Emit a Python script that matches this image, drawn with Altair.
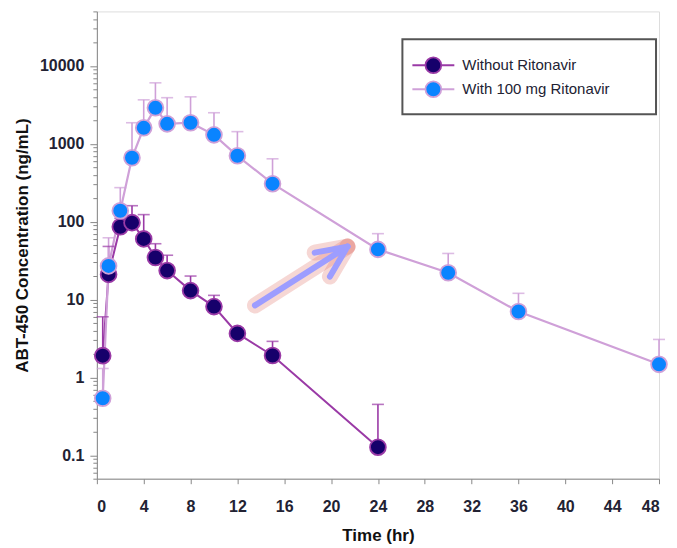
import altair as alt
import pandas as pd

# ---- data ----
series_names = ["Without Ritonavir", "With 100 mg Ritonavir"]

times_without = [0.5, 1, 2, 3, 4, 5, 6, 8, 10, 12, 15, 24]
conc_without = [1.9, 21, 86, 97, 60, 34.6, 23.5, 13, 8.1, 3.67, 1.91, 0.127]
upper_without = [6.0, 48, 110, 160, 123, 52, 37, 20, 11.3, 4.3, 2.9, 0.45]

times_with = [0.5, 1, 2, 3, 4, 5, 6, 8, 10, 12, 15, 24, 30, 36, 48]
conc_with = [0.54, 27, 138, 660, 1600, 2890, 1800, 1860, 1300, 700, 307, 44, 22, 7, 1.47]
upper_with = [1.3, 62, 273, 1860, 3660, 6050, 3900, 4000, 2500, 1430, 640, 70, 39, 12, 3.07]

x_ticks = [0, 4, 8, 12, 16, 20, 24, 28, 32, 36, 40, 44, 48]
y_major = [0.1, 1, 10, 100, 1000, 10000]
y_ticks = [m * d for d in [0.01, 0.1, 1, 10, 100, 1000, 10000] for m in range(1, 10)]
y_ticks = [v for v in y_ticks if 0.05 - 1e-9 <= v <= 50000 + 1e-6]

# annotation arrow (data coordinates)
arrow_shaft_x = [13.5, 21.4]
arrow_shaft_y = [8.4, 47.8]
arrow_head1_x = [18.6, 21.4]
arrow_head1_y = [40, 47.8]
arrow_head2_x = [19.9, 21.4]
arrow_head2_y = [19.7, 47.8]

dark_fill = "#16006b"
dark_line = "#9a3aa6"
blue_fill = "#0a84ff"
blue_line = "#cfa0d8"
FONT = "Liberation Sans"

df = pd.concat([
    pd.DataFrame({"time": times_without, "value": conc_without, "upper": upper_without,
                  "series": series_names[0], "order": 0}),
    pd.DataFrame({"time": times_with, "value": conc_with, "upper": upper_with,
                  "series": series_names[1], "order": 1}),
], ignore_index=True)

is_major = "abs(log(datum.value)/LN10 - round(log(datum.value)/LN10)) < 0.001"

xscale = alt.Scale(domain=[0, 48], nice=False, zero=False)
yscale = alt.Scale(type="log", domain=[0.05, 50000], nice=False)

xaxis = alt.Axis(values=x_ticks, title="Time (hr)", grid=False, tickSize=5,
                 labelPadding=15, titlePadding=13, labelFontSize=16, titleFontSize=17,
                 labelFontWeight="bold", titleFontWeight="bold", labelFont=FONT, titleFont=FONT,
                 labelColor="#222233", titleColor="#111111")
yaxis = alt.Axis(values=y_ticks, format="~g", title="ABT-450 Concentration (ng/mL)",
                 grid=False, labelOverlap=False, labelBound=False,
                 labelExpr=f"({is_major}) ? datum.label : ''",
                 tickSize={"condition": {"test": is_major, "value": 7}, "value": 4},
                 labelPadding=6, titlePadding=8, labelFontSize=16, titleFontSize=17,
                 labelFontWeight="bold", titleFontWeight="bold", labelFont=FONT, titleFont=FONT,
                 labelColor="#222233", titleColor="#111111")


def X(field):
    return alt.X(f"{field}:Q", scale=xscale, axis=xaxis)


def Y(field):
    return alt.Y(f"{field}:Q", scale=yscale, axis=yaxis)


color_scale = alt.Scale(domain=series_names, range=[dark_line, blue_line])
fill_scale = alt.Scale(domain=series_names, range=[dark_fill, blue_fill])

base = alt.Chart(df)

line_dark = alt.Chart(df[df.series == series_names[0]]).mark_line(
    color=dark_line, strokeWidth=2).encode(x=X("time"), y=Y("value"))
line_blue = alt.Chart(df[df.series == series_names[1]]).mark_line(
    color=blue_line, strokeWidth=2.2).encode(x=X("time"), y=Y("value"))

stems = base.mark_rule(strokeWidth=1.6).encode(
    x=X("time"), y=Y("value"), y2="upper:Q",
    color=alt.Color("series:N", scale=color_scale, legend=None))
caps = base.mark_tick(orient="horizontal", size=12, thickness=1.6).encode(
    x=X("time"), y=Y("upper"),
    color=alt.Color("series:N", scale=color_scale, legend=None))

points = base.mark_point(filled=True, shape="circle", size=250, strokeWidth=1.8,
                         opacity=1).encode(
    x=X("time"), y=Y("value"),
    fill=alt.Fill("series:N", scale=fill_scale, legend=None),
    stroke=alt.Stroke("series:N", scale=color_scale, legend=None),
    order=alt.Order("order:Q"))


# arrow annotation
def seg(xs, ys, **kw):
    d = pd.DataFrame({"x": xs, "y": ys})
    return alt.Chart(d).mark_line(**kw).encode(x=X("x"), y=Y("y"))


glow_kw = dict(color="#e07a70", strokeWidth=16, opacity=0.3, strokeCap="round")
arrow_kw = dict(color="#9d9dff", strokeWidth=6, strokeCap="round")
arrow_layers = [
    seg(arrow_shaft_x, arrow_shaft_y, **glow_kw),
    seg(arrow_head1_x, arrow_head1_y, **glow_kw),
    seg(arrow_head2_x, arrow_head2_y, **glow_kw),
    seg(arrow_shaft_x, arrow_shaft_y, **arrow_kw),
    seg(arrow_head1_x, arrow_head1_y, **arrow_kw),
    seg(arrow_head2_x, arrow_head2_y, **arrow_kw),
]

# legend (drawn manually)
one = pd.DataFrame({"k": [0]})
legend_box = alt.Chart(one).mark_rect(fill="white", stroke="#555555", strokeWidth=2).encode(
    x=alt.value(306), x2=alt.value(560), y=alt.value(28), y2=alt.value(103))
legend_layers = [legend_box]
for i, (name, lc, fc) in enumerate(zip(series_names, [dark_line, blue_line], [dark_fill, blue_fill])):
    ly = 54 + i * 24
    ld = pd.DataFrame({"label": [name]})
    legend_layers.append(alt.Chart(ld).mark_rule(color=lc, strokeWidth=2).encode(
        x=alt.value(316), x2=alt.value(358), y=alt.value(ly)))
    legend_layers.append(alt.Chart(ld).mark_point(filled=True, shape="circle", size=250,
                                                   fill=fc, stroke=lc, strokeWidth=1.8,
                                                   opacity=1).encode(
        x=alt.value(337), y=alt.value(ly)))
    legend_layers.append(alt.Chart(ld).mark_text(align="left", baseline="middle", fontSize=15,
                                                  font=FONT, color="#222233").encode(
        x=alt.value(366), y=alt.value(ly), text="label:N"))

chart = alt.layer(
    line_dark, line_blue, *arrow_layers, stems, caps, points, *legend_layers
).properties(
    width=563, height=468,
    autosize=alt.AutoSizeParams(type="none"),
    padding={"left": 89, "top": 3, "right": 10, "bottom": 72},
).configure_view(stroke=None).configure_axis(
    domainColor="#111111", domainWidth=2, tickColor="#111111", tickWidth=1.5,
).configure(background="white")

chart.save("out.html", embed_options={"renderer": "svg", "actions": False})
